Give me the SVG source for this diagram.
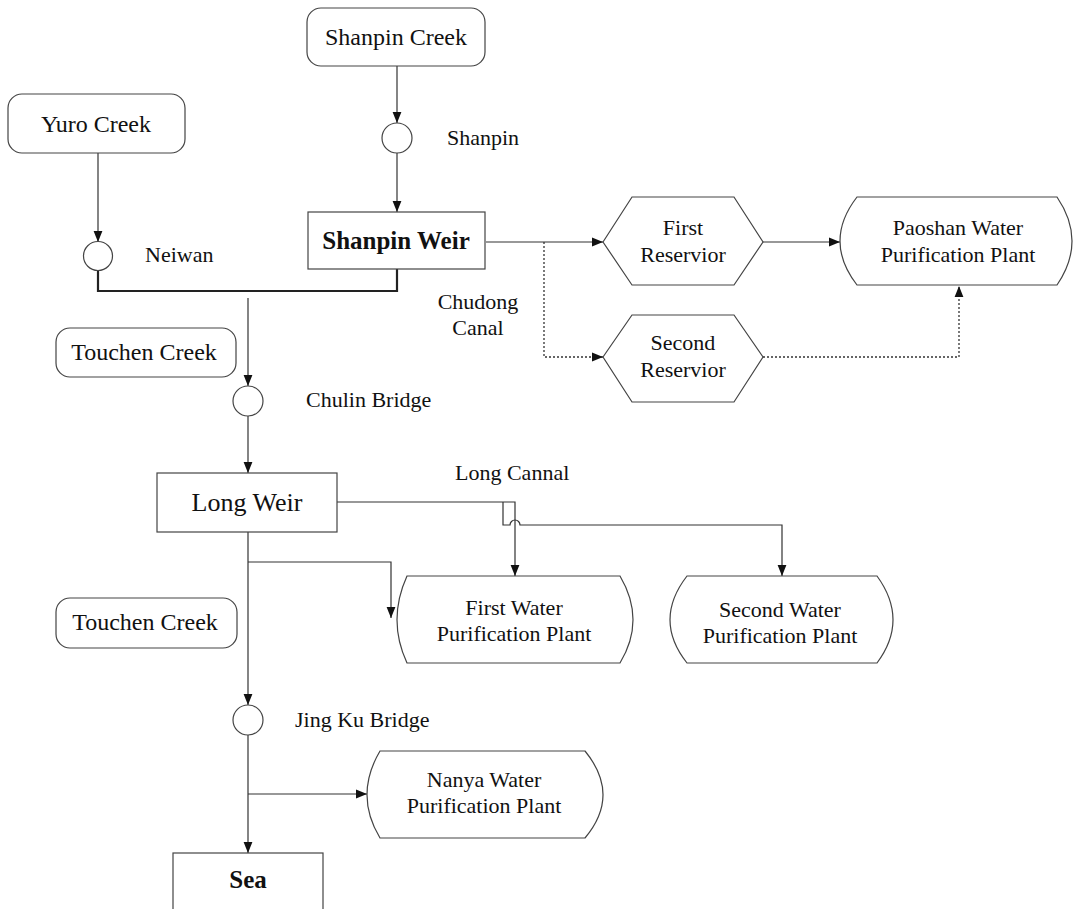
<svg xmlns="http://www.w3.org/2000/svg" width="1073" height="909" viewBox="0 0 1073 909">
<style>
text{font-family:"Liberation Serif","Times New Roman",serif;fill:#111}
.lbl{font-size:22px}
.cr{font-size:24px;text-anchor:middle}
.big{font-size:26px;text-anchor:middle}
.bb{font-size:25px;font-weight:bold;text-anchor:middle}
.mid{font-size:22px;text-anchor:middle}
.box{fill:#fff;stroke:#444;stroke-width:1.2}
.ln{fill:none;stroke:#333;stroke-width:1.2}
.thick{fill:none;stroke:#222;stroke-width:2.2}
.dot{fill:none;stroke:#333;stroke-width:1.3;stroke-dasharray:2,2}
.a{marker-end:url(#arr)}
</style>
<defs>
<marker id="arr" viewBox="0 0 10 10" refX="10" refY="5" markerWidth="11" markerHeight="11" markerUnits="userSpaceOnUse" orient="auto">
<path d="M0,1 L10,5 L0,9 z" fill="#111"/>
</marker>
</defs>
<rect width="1073" height="909" fill="#fff"/>

<g id="connectors">
<line class="ln a" x1="397" y1="66" x2="397" y2="123"/>
<line class="ln a" x1="397" y1="153" x2="397" y2="212"/>
<line class="ln a" x1="98" y1="153" x2="98" y2="242"/>
<path class="thick" d="M98,270 L98,291 L397,291 L397,269"/>
<line class="ln a" x1="486" y1="242" x2="603" y2="242"/>
<line class="ln a" x1="763" y1="242" x2="840" y2="242"/>
<path class="dot a" d="M544,242 L544,357 L603,357"/>
<path class="dot a" d="M763,357 L959,357 L959,286"/>
<line class="ln a" x1="248" y1="298" x2="248" y2="386"/>
<line class="ln a" x1="248" y1="416" x2="248" y2="473"/>
<path class="ln a" d="M337,502 L515,502 L515,576"/>
<path class="ln a" d="M503,502 L503,525 L510,525 A5,5 0 0 1 520,525 L782,525 L782,576"/>
<path class="ln a" d="M248,562 L391,562 L391,618"/>
<line class="ln a" x1="248" y1="532" x2="248" y2="705"/>
<line class="ln a" x1="248" y1="735" x2="248" y2="853"/>
<line class="ln a" x1="248" y1="794" x2="367" y2="794"/>
</g>

<g id="shanpin-creek"><rect class="box" x="307" y="8" width="178" height="58" rx="14"/><text class="cr" x="396" y="45">Shanpin Creek</text></g>
<g id="yuro-creek"><rect class="box" x="8" y="94" width="177" height="59" rx="14"/><text class="cr" x="96" y="132">Yuro Creek</text></g>
<g id="shanpin-station"><circle class="box" cx="397" cy="138" r="15"/><text class="lbl" x="447" y="145">Shanpin</text></g>
<g id="neiwan-station"><circle class="box" cx="98" cy="256" r="14.5"/><text class="lbl" x="145" y="262">Neiwan</text></g>
<g id="shanpin-weir"><rect class="box" x="308" y="212" width="177" height="57"/><text class="bb" x="396" y="249">Shanpin Weir</text></g>
<g id="chudong-canal-label"><text class="mid" x="478" y="309">Chudong</text><text class="mid" x="478" y="335">Canal</text></g>
<g id="first-reservoir"><path class="box" d="M603,242 L632,197 L734,197 L763,242 L734,285 L632,285 Z"/><text class="mid" x="683" y="235">First</text><text class="mid" x="683" y="262">Reservior</text></g>
<g id="second-reservoir"><path class="box" d="M603,357 L632,315 L734,315 L763,357 L734,402 L632,402 Z"/><text class="mid" x="683" y="350">Second</text><text class="mid" x="683" y="377">Reservior</text></g>
<g id="paoshan-plant"><path class="box" d="M857,197 L1057,197 Q1087,241 1057,285 L857,285 Q823,241 857,197 Z"/><text class="mid" x="958" y="235">Paoshan Water</text><text class="mid" x="958" y="262">Purification Plant</text></g>
<g id="touchen-creek-1"><rect class="box" x="56" y="328" width="180" height="49" rx="14"/><text class="cr" x="144" y="360">Touchen Creek</text></g>
<g id="chulin-bridge"><circle class="box" cx="248" cy="401" r="15"/><text class="lbl" x="306" y="407">Chulin Bridge</text></g>
<g id="long-weir"><rect class="box" x="157" y="473" width="180" height="59"/><text class="big" x="247" y="511">Long Weir</text></g>
<g id="long-cannal-label"><text class="lbl" x="455" y="480">Long Cannal</text></g>
<g id="first-wpp"><path class="box" d="M407,576 L620,576 Q646,620 620,663 L407,663 Q387,620 407,576 Z"/><text class="mid" x="514" y="615">First Water</text><text class="mid" x="514" y="641">Purification Plant</text></g>
<g id="second-wpp"><path class="box" d="M687,576 L877,576 Q909,620 877,663 L687,663 Q653,620 687,576 Z"/><text class="mid" x="780" y="617">Second Water</text><text class="mid" x="780" y="643">Purification Plant</text></g>
<g id="touchen-creek-2"><rect class="box" x="56" y="598" width="181" height="50" rx="14"/><text class="cr" x="145" y="630">Touchen Creek</text></g>
<g id="jingku-bridge"><circle class="box" cx="248" cy="720" r="15"/><text class="lbl" x="295" y="727">Jing Ku Bridge</text></g>
<g id="nanya-plant"><path class="box" d="M380,751 L585,751 Q621,795 585,838 L380,838 Q354,795 380,751 Z"/><text class="mid" x="484" y="787">Nanya Water</text><text class="mid" x="484" y="813">Purification Plant</text></g>
<g id="sea"><rect class="box" x="173" y="853" width="150" height="70"/><text class="bb" x="248" y="888">Sea</text></g>
</svg>
